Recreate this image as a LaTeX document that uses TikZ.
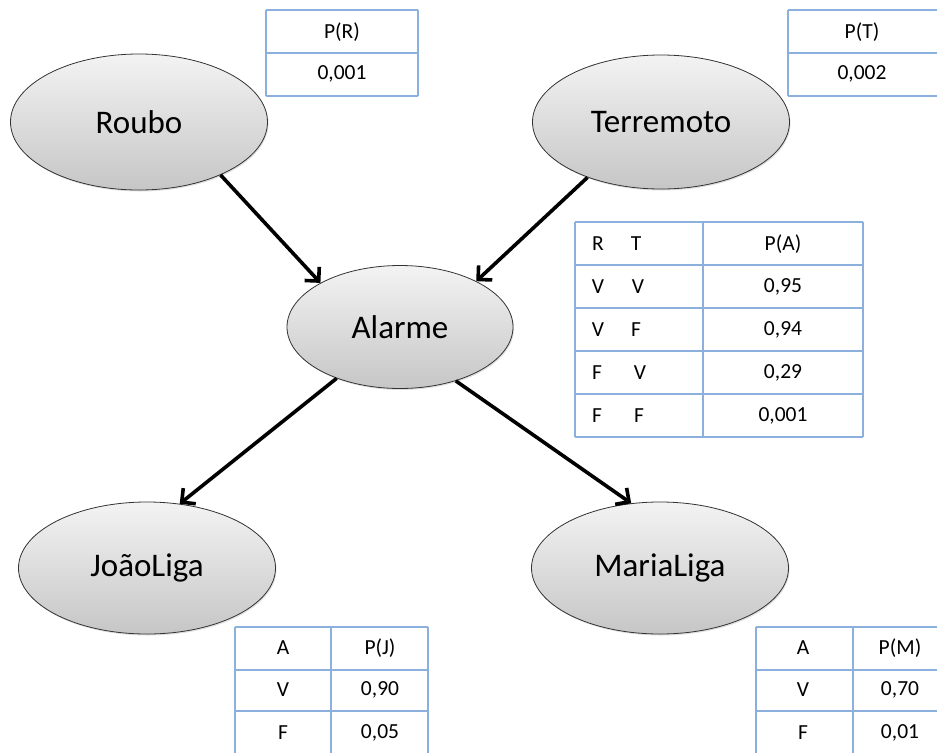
\documentclass[tikz,border=0pt]{standalone}
\usepackage{fontspec}
\setmainfont{Carlito}
\usetikzlibrary{shapes.geometric,arrows.meta,shadows}

\definecolor{gridblue}{HTML}{8CB0DE}
\definecolor{nodetop}{HTML}{F3F3F3}
\definecolor{nodebot}{HTML}{C6C6C6}

\tikzset{
  bnode/.style={ellipse, draw=black!80, line width=0.8pt, inner sep=0pt,
    top color=nodetop, bottom color=nodebot,
    drop shadow={opacity=0.25, shadow xshift=1pt, shadow yshift=-1.5pt},
    font=\fontsize{33}{38}\selectfont},
  link/.style={line width=3.6pt, -{Straight Barb[length=10pt,width=20pt,line width=3.6pt]}},
  gridline/.style={draw=gridblue, line width=1.6pt},
  cell/.style={font=\fontsize{21.5}{25}\selectfont, inner sep=0pt, anchor=center},
}

\begin{document}
\begin{tikzpicture}[x=1pt,y=-1pt]
\useasboundingbox (0,0) rectangle (937,753);

% ---- network nodes ----
\node[bnode, minimum width=257pt, minimum height=136pt] (roubo) at (139,122) {Roubo};
\node[bnode, minimum width=257pt, minimum height=134pt] (terremoto) at (661,122) {Terremoto};
\node[bnode, minimum width=226pt, minimum height=123pt] (alarme) at (400,327) {Alarme};
\node[bnode, minimum width=257pt, minimum height=132pt] (joao) at (147,568) {JoãoLiga};
\node[bnode, minimum width=257pt, minimum height=132pt] (maria) at (660,568) {MariaLiga};

% ---- dependencies ----
\draw[link] (roubo.-33) -- (alarme.151);
\draw[link] (terremoto.-143) -- (alarme.31);
\draw[link] (alarme.-141) -- (joao.63);
\draw[link] (alarme.-44) -- (maria.114);

% ---- P(R) ----
\draw[gridline] (266,10) -- (418,10) (266,53) -- (418,53) (266,96) -- (418,96)
  (266,10) -- (266,96) (418,10) -- (418,96);
\node[cell] (prh) at (342,32) {P(R)};
\node[cell] (prv) at (342,74) {0,001};

% ---- P(T) ----
\draw[gridline] (788,10) -- (937,10) (788,53) -- (937,53) (788,96) -- (937,96)
  (788,10) -- (788,96);
\node[cell] (pth) at (862,32) {P(T)};
\node[cell] (ptv) at (862,74) {0,002};

% ---- P(A | R, T) ----
\draw[gridline] (575,222) -- (863,222) (575,265) -- (863,265) (575,308) -- (863,308)
  (575,351) -- (863,351) (575,394) -- (863,394) (575,437) -- (863,437)
  (575,222) -- (575,437) (703,222) -- (703,437) (863,222) -- (863,437);
\node[cell] (pa0r) at (598,244) {R};
\node[cell] (pa0t) at (636,244) {T};
\node[cell] (pa0p) at (783,244) {P(A)};
\node[cell] (pa1r) at (598,287) {V};
\node[cell] (pa1t) at (638,287) {V};
\node[cell] (pa1p) at (783,287) {0,95};
\node[cell] (pa2r) at (598,330) {V};
\node[cell] (pa2t) at (636,330) {F};
\node[cell] (pa2p) at (783,330) {0,94};
\node[cell] (pa3r) at (597,373) {F};
\node[cell] (pa3t) at (640,373) {V};
\node[cell] (pa3p) at (783,373) {0,29};
\node[cell] (pa4r) at (597,416) {F};
\node[cell] (pa4t) at (639,416) {F};
\node[cell] (pa4p) at (783,416) {0,001};

% ---- P(J | A) ----
\draw[gridline] (235,627) -- (428,627) (235,670) -- (428,670) (235,711) -- (428,711)
  (235,627) -- (235,753) (331,627) -- (331,753) (428,627) -- (428,753);
\node[cell] (pj0a) at (283,648) {A};
\node[cell] (pj0p) at (380,648) {P(J)};
\node[cell] (pj1a) at (283,690) {V};
\node[cell] (pj1p) at (380,690) {0,90};
\node[cell] (pj2a) at (283,733) {F};
\node[cell] (pj2p) at (380,733) {0,05};

% ---- P(M | A) ----
\draw[gridline] (756,627) -- (937,627) (756,670) -- (937,670) (756,711) -- (937,711)
  (756,627) -- (756,753) (853,627) -- (853,753);
\node[cell] (pm0a) at (803,648) {A};
\node[cell] (pm0p) at (900,648) {P(M)};
\node[cell] (pm1a) at (803,690) {V};
\node[cell] (pm1p) at (900,690) {0,70};
\node[cell] (pm2a) at (803,733) {F};
\node[cell] (pm2p) at (900,733) {0,01};
\end{tikzpicture}
\end{document}
